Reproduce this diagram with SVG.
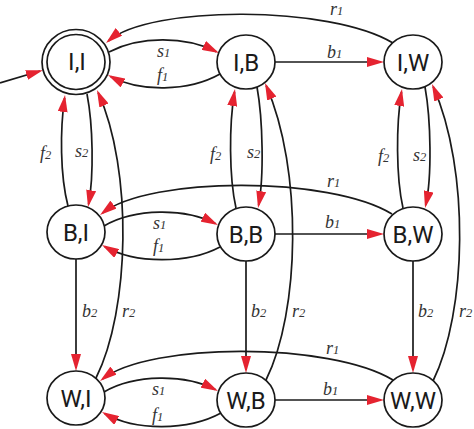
<svg xmlns="http://www.w3.org/2000/svg" width="474" height="429" viewBox="0 0 474 429">
<style>
.n ellipse{fill:#fff;stroke:#1a1a1a;stroke-width:1.7}
.n text{font-family:Roboto,"Liberation Sans",sans-serif;font-size:24px;fill:#1a1a1a;text-anchor:middle}
.e path{fill:none;stroke:#1a1a1a;stroke-width:1.7;marker-end:url(#arr)}
.l{font-family:"Liberation Serif",serif;font-style:italic;font-size:18px;fill:#333}
.l tspan{font-size:12.5px}
</style>
<defs>
<marker id="arr" markerUnits="userSpaceOnUse" markerWidth="17" markerHeight="10" viewBox="0 0 17 10" refX="14" refY="5" orient="auto">
<path d="M0,0 L17,5 L0,10 Z" fill="#e52330"/>
</marker>
</defs>
<rect width="474" height="429" fill="#fff"/>
<g class="e" id="connectors">
<path d="M0 83 L40 71"/>
<path d="M393 43 C330 5 150 5 108.3 41"/>
<path d="M109 52 C140 36 185 36 216.3 51.7"/>
<path d="M220 74 C188 92 140 92 110.6 76.4"/>
<path d="M275 62 L381 62"/>
<path d="M87 94 C93 125 94 175 88.6 204.1"/>
<path d="M68 206 C60 175 60 130 64.6 98"/>
<path d="M96 378 C130 310 133 170 98.2 92.7"/>
<path d="M236 208 C229 177 229 125 234.5 92"/>
<path d="M257 87 C263 120 264 177 258.6 205"/>
<path d="M266 380 C300 312 303 170 266.2 85.7"/>
<path d="M403 208 C396 177 396 125 401.5 92"/>
<path d="M425 87 C431 120 432 177 425.7 205.1"/>
<path d="M433 381 C467 312 470 170 433.2 86.7"/>
<path d="M76 259 L76 368"/>
<path d="M246 261 L246 370"/>
<path d="M413 261 L413 370"/>
<path d="M104 226 C135 208 185 208 215.3 223.6"/>
<path d="M220 247 C188 264 135 264 104.6 246.5"/>
<path d="M275 234 L381 234"/>
<path d="M392 214 C330 176 150 176 102.4 213.2"/>
<path d="M104 392 C135 374 185 374 215.3 389.6"/>
<path d="M221 413 C188 431 135 431 104.6 413.5"/>
<path d="M275 400 L381 400"/>
<path d="M393 380 C330 342 150 342 102.4 379.2"/>
</g>
<g id="labels">
<text class="l" x="157" y="57">s<tspan>1</tspan></text>
<text class="l" x="157" y="81">f<tspan>1</tspan></text>
<text class="l" x="327" y="58">b<tspan>1</tspan></text>
<text class="l" x="330" y="15">r<tspan>1</tspan></text>
<text class="l" x="153" y="229">s<tspan>1</tspan></text>
<text class="l" x="153" y="252">f<tspan>1</tspan></text>
<text class="l" x="325" y="228">b<tspan>1</tspan></text>
<text class="l" x="327" y="187">r<tspan>1</tspan></text>
<text class="l" x="152" y="395">s<tspan>1</tspan></text>
<text class="l" x="152" y="421">f<tspan>1</tspan></text>
<text class="l" x="323" y="395">b<tspan>1</tspan></text>
<text class="l" x="326" y="354">r<tspan>1</tspan></text>
<text class="l" x="40" y="159">f<tspan>2</tspan></text>
<text class="l" x="75" y="157">s<tspan>2</tspan></text>
<text class="l" x="210" y="160">f<tspan>2</tspan></text>
<text class="l" x="247" y="158">s<tspan>2</tspan></text>
<text class="l" x="378" y="162">f<tspan>2</tspan></text>
<text class="l" x="413" y="161">s<tspan>2</tspan></text>
<text class="l" x="82" y="317">b<tspan>2</tspan></text>
<text class="l" x="251" y="317">b<tspan>2</tspan></text>
<text class="l" x="418" y="317">b<tspan>2</tspan></text>
<text class="l" x="122" y="317">r<tspan>2</tspan></text>
<text class="l" x="292" y="317">r<tspan>2</tspan></text>
<text class="l" x="459" y="317">r<tspan>2</tspan></text>
</g>
<g class="n" id="node-II"><ellipse cx="76" cy="62" rx="34" ry="32.5"/><ellipse cx="76" cy="62" rx="29" ry="27.5"/><text x="77" y="70">I,I</text></g>
<g class="n" id="node-IB"><ellipse cx="246" cy="62" rx="29" ry="27"/><text x="246" y="70.5">I,B</text></g>
<g class="n" id="node-IW"><ellipse cx="413" cy="62" rx="29" ry="27"/><text x="413" y="70.5">I,W</text></g>
<g class="n" id="node-BI"><ellipse cx="76" cy="232" rx="29" ry="27"/><text x="76" y="240.5">B,I</text></g>
<g class="n" id="node-BB"><ellipse cx="246" cy="234" rx="29" ry="27"/><text x="246" y="242.5">B,B</text></g>
<g class="n" id="node-BW"><ellipse cx="413" cy="234" rx="29" ry="27"/><text x="413" y="242.5">B,W</text></g>
<g class="n" id="node-WI"><ellipse cx="76" cy="398" rx="29" ry="27"/><text x="76" y="406.5">W,I</text></g>
<g class="n" id="node-WB"><ellipse cx="246" cy="400" rx="29" ry="27"/><text x="246" y="408.5">W,B</text></g>
<g class="n" id="node-WW"><ellipse cx="413" cy="400" rx="29" ry="27"/><text x="413" y="408.5">W,W</text></g>
</svg>
